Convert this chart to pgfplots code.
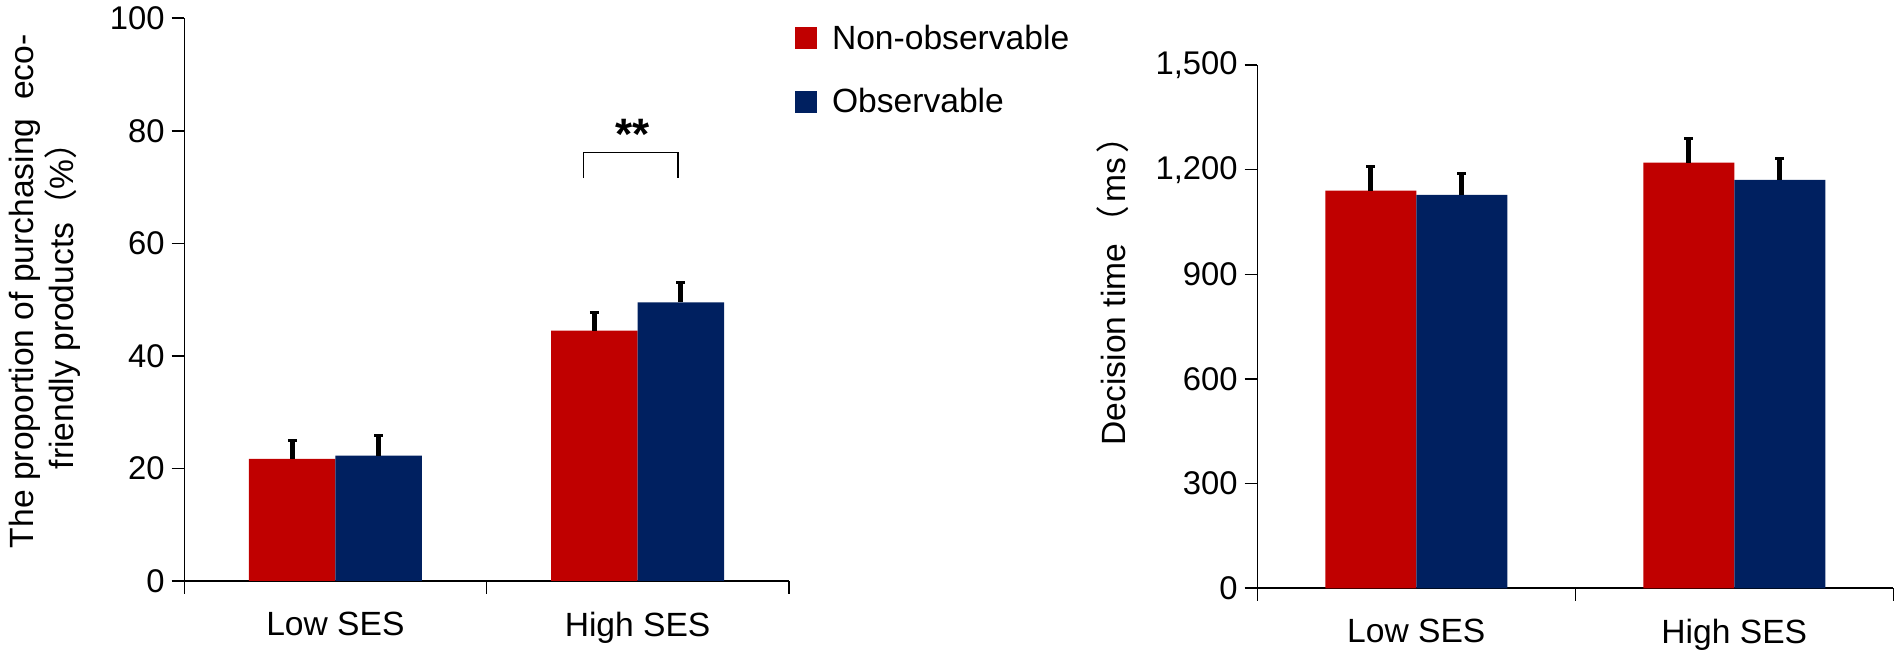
\documentclass[border=0pt]{standalone}
\usepackage{pgfplots}
\pgfplotsset{compat=1.18}
\usepackage{fontspec}
\setmainfont{Liberation Sans}
\newfontfamily\cjk{Noto Sans CJK SC}
\definecolor{cred}{RGB}{192,0,0}
\definecolor{cnavy}{RGB}{0,32,96}
\newcommand{\txtfont}{\fontsize{16.8}{20}\selectfont}
\newcommand{\tickfont}{\fontsize{16.4}{19.6}\selectfont}
\pgfplotsset{
  mystyle/.style={
    scale only axis,
    anchor=south west,
    clip=false,
    axis x line=bottom, axis y line=left,
    axis line style={-, line width=0.8pt, black},
    xmin=-0.5, xmax=1.5,
    xtick={0,1}, xticklabels={Low SES, High SES},
    minor xtick={-0.5,0.5,1.5},
    major x tick style={draw=none},
    minor x tick style={line width=0.8pt, draw=black},
    ytick style={line width=0.8pt, draw=black},
    tick align=outside,
    major tick length=6.3pt, minor tick length=6.3pt,
    ybar=0pt, bar width=0.286,
    font=\txtfont,
    yticklabel style={font=\tickfont},
    xticklabel style={font=\txtfont, yshift=-5.5pt},
    /pgf/number format/assume math mode=true,
    error bars/y dir=plus, error bars/y explicit,
    error bars/error mark=|,
    error bars/error bar style={draw=black, solid, line width=2.4pt},
    error bars/error mark options={draw=black, fill=black, solid, line width=1.6pt, mark size=2.2pt},
  }
}
\begin{document}
\begin{tikzpicture}
\useasboundingbox (0,0) rectangle (950.5pt,328pt);
% Left panel
\begin{axis}[mystyle,
  at={(92.15pt,37.5pt)}, width=302.2pt, height=281.35pt,
  ymin=0, ymax=100, ytick={0,20,...,100},
  legend style={at={(axis description cs:1.0105,0.9886)}, anchor=north west,
    draw=none, fill=none, inner sep=0pt, outer sep=0pt,
    nodes={inner sep=0pt, outer sep=0pt},
    row sep=18.2pt, column sep=7.5pt,
    font=\txtfont},
  legend cell align=left,
  legend image code/.code={\fill[#1] (0pt,-5.5pt) rectangle (11pt,5.5pt);},
]
\addplot[fill=cred, draw=none] coordinates {(0,21.7) +- (0,3.3) (1,44.5) +- (0,3.2)};
\addplot[fill=cnavy, draw=none] coordinates {(0,22.3) +- (0,3.5) (1,49.5) +- (0,3.5)};
\legend{Non-observable, Observable}
\draw[line width=0.6pt, black] (axis cs:0.821,71.6) -- (axis cs:0.821,76.2) -- (axis cs:1.134,76.2) -- (axis cs:1.134,71.6);
\node[anchor=base, inner sep=0pt, font=\fontsize{22}{26}\selectfont\bfseries] at (axis cs:0.983,76.7) {**};
\node[rotate=90, anchor=base, inner sep=0pt] at (axis description cs:-0.2487,0.515) {The proportion of purchasing\ \ eco-};
\node[rotate=90, anchor=base, inner sep=0pt] at (axis description cs:-0.1825,0.504) {friendly products{\cjk （}\%{\cjk ）}};
\end{axis}
% Right panel
\begin{axis}[mystyle,
  at={(628.65pt,33.85pt)}, width=318pt, height=261.65pt,
  ymin=0, ymax=1500, ytick={0,300,...,1500},
  scaled y ticks=false,
  yticklabel style={/pgf/number format/1000 sep={,}},
]
\addplot[fill=cred, draw=none] coordinates {(0,1140) +- (0,70) (1,1220) +- (0,69)};
\addplot[fill=cnavy, draw=none] coordinates {(0,1128) +- (0,62) (1,1171) +- (0,61)};
\node[rotate=90, anchor=base west, inner sep=0pt] at (axis description cs:-0.208,0.2725) {Decision time\hspace{2pt}{\cjk （}\hspace{2pt}ms\hspace{2pt}{\cjk ）}};
\end{axis}
\end{tikzpicture}
\end{document}
